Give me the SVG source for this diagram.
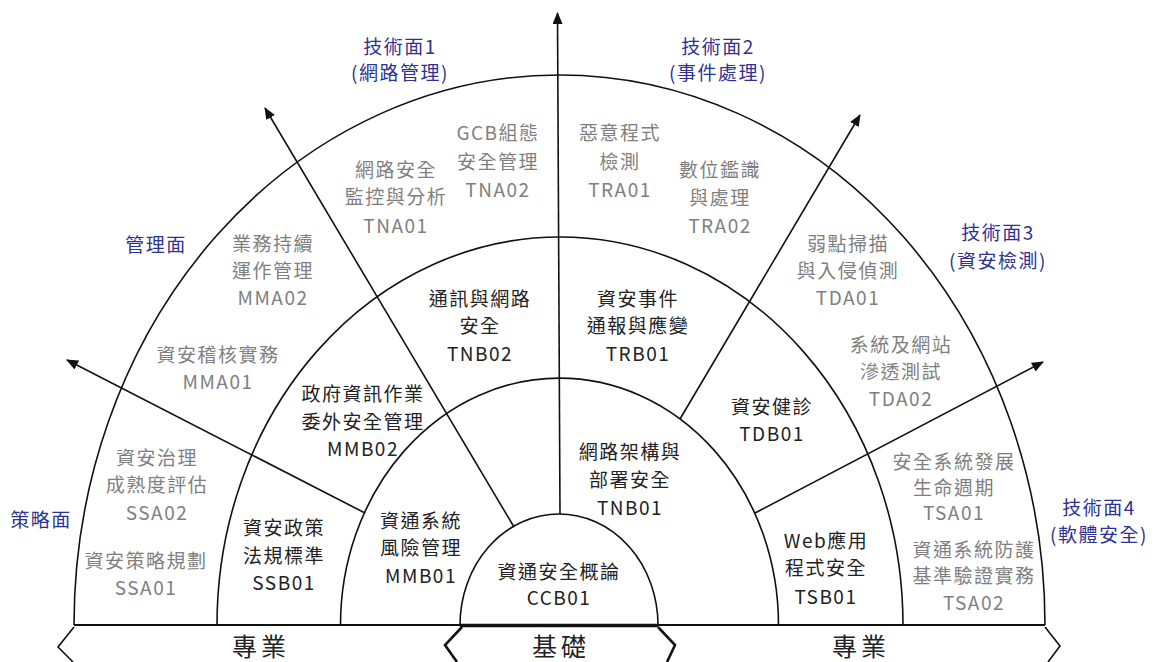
<svg xmlns="http://www.w3.org/2000/svg" width="1158" height="662" viewBox="0 0 1158 662">
<style>
text{font-family:"Noto Sans CJK TC","Noto Sans",sans-serif;font-size:19px;letter-spacing:1.5px;text-anchor:middle}
.g{fill:#7f7f7f}
.k{fill:#222222}
.n{fill:#2e3192}
.b{font-size:25px;letter-spacing:4px;fill:#222222}
.arc{fill:none;stroke:#111;stroke-width:1.6}
.ar{fill:none;stroke:#111;stroke-width:1.6}
</style>
<defs>
<marker id="ah" markerUnits="userSpaceOnUse" markerWidth="12" markerHeight="10" refX="11" refY="5" orient="auto">
<path d="M0,0 L12,5 L0,10 z" fill="#111"/>
</marker>
</defs>
<rect width="1158" height="662" fill="#ffffff"/>
<g id="rings">
<path class="arc" d="M74,625 A485.5,550 0 0 1 1045,625"/>
<path class="arc" d="M217,625 A343,388 0 0 1 903,625"/>
<path class="arc" d="M340.5,625 A219,247 0 0 1 778.5,625"/>
<path class="arc" d="M460,625 A99,111 0 0 1 658,625"/>
<line x1="74" y1="625" x2="1045" y2="625" stroke="#111" stroke-width="2.2"/>
<line x1="460" y1="625.5" x2="658" y2="625.5" stroke="#111" stroke-width="3.5"/>
<polyline points="74,627 58,647 73,662" fill="none" stroke="#111" stroke-width="1.6"/>
<polyline points="462,627 445,645 457,662" fill="none" stroke="#111" stroke-width="2.6"/>
<polyline points="658,627 675,645 667,662" fill="none" stroke="#111" stroke-width="2.6"/>
<polyline points="1045,627 1060,646 1048,662" fill="none" stroke="#111" stroke-width="1.6"/>
</g>
<g id="connectors">
<line class="ar" x1="560" y1="514" x2="557.5" y2="13" marker-end="url(#ah)"/>
<line class="ar" x1="514" y1="527" x2="265" y2="108" marker-end="url(#ah)"/>
<line class="ar" x1="365" y1="513" x2="67" y2="360" marker-end="url(#ah)"/>
<line class="ar" x1="680" y1="419" x2="860" y2="115" marker-end="url(#ah)"/>
<line class="ar" x1="755" y1="513" x2="1043" y2="362" marker-end="url(#ah)"/>
</g>
<g id="labels">
<text class="n" x="400" y="54">技術面1</text>
<text class="n" x="400" y="80">(網路管理)</text>
<text class="n" x="718" y="54">技術面2</text>
<text class="n" x="718" y="80">(事件處理)</text>
<text class="n" x="156" y="252">管理面</text>
<text class="n" x="998" y="240">技術面3</text>
<text class="n" x="998" y="268">(資安檢測)</text>
<text class="n" x="41" y="527">策略面</text>
<text class="n" x="1099" y="515">技術面4</text>
<text class="n" x="1099" y="542">(軟體安全)</text>
</g>
<g id="TNA02"><text class="g" x="498"><tspan x="498" y="140">GCB組態</tspan><tspan x="498" y="169">安全管理</tspan><tspan x="498" y="197">TNA02</tspan></text></g>
<g id="TRA01"><text class="g" x="620"><tspan x="620" y="140">惡意程式</tspan><tspan x="620" y="169">檢測</tspan><tspan x="620" y="197">TRA01</tspan></text></g>
<g id="TNA01"><text class="g" x="396"><tspan x="396" y="177">網路安全</tspan><tspan x="396" y="204">監控與分析</tspan><tspan x="396" y="233">TNA01</tspan></text></g>
<g id="TRA02"><text class="g" x="720"><tspan x="720" y="177">數位鑑識</tspan><tspan x="720" y="205">與處理</tspan><tspan x="720" y="233">TRA02</tspan></text></g>
<g id="MMA02"><text class="g" x="273"><tspan x="273" y="251">業務持續</tspan><tspan x="273" y="278">運作管理</tspan><tspan x="273" y="305">MMA02</tspan></text></g>
<g id="TDA01"><text class="g" x="848"><tspan x="848" y="251">弱點掃描</tspan><tspan x="848" y="278">與入侵偵測</tspan><tspan x="848" y="305">TDA01</tspan></text></g>
<g id="MMA01"><text class="g" x="218"><tspan x="218" y="362">資安稽核實務</tspan><tspan x="218" y="389">MMA01</tspan></text></g>
<g id="TDA02"><text class="g" x="901"><tspan x="901" y="352">系統及網站</tspan><tspan x="901" y="379">滲透測試</tspan><tspan x="901" y="406">TDA02</tspan></text></g>
<g id="SSA02"><text class="g" x="157"><tspan x="157" y="465">資安治理</tspan><tspan x="157" y="492">成熟度評估</tspan><tspan x="157" y="520">SSA02</tspan></text></g>
<g id="TSA01"><text class="g" x="954"><tspan x="954" y="469">安全系統發展</tspan><tspan x="954" y="495">生命週期</tspan><tspan x="954" y="520">TSA01</tspan></text></g>
<g id="SSA01"><text class="g" x="146"><tspan x="146" y="568">資安策略規劃</tspan><tspan x="146" y="595">SSA01</tspan></text></g>
<g id="TSA02"><text class="g" x="974"><tspan x="974" y="557">資通系統防護</tspan><tspan x="974" y="583">基準驗證實務</tspan><tspan x="974" y="610">TSA02</tspan></text></g>
<g id="TNB02"><text class="k" x="480"><tspan x="480" y="306">通訊與網路</tspan><tspan x="480" y="333">安全</tspan><tspan x="480" y="361">TNB02</tspan></text></g>
<g id="TRB01"><text class="k" x="638"><tspan x="638" y="306">資安事件</tspan><tspan x="638" y="333">通報與應變</tspan><tspan x="638" y="361">TRB01</tspan></text></g>
<g id="MMB02"><text class="k" x="363"><tspan x="363" y="401">政府資訊作業</tspan><tspan x="363" y="429">委外安全管理</tspan><tspan x="363" y="456">MMB02</tspan></text></g>
<g id="TDB01"><text class="k" x="772"><tspan x="772" y="414">資安健診</tspan><tspan x="772" y="441">TDB01</tspan></text></g>
<g id="SSB01"><text class="k" x="284"><tspan x="284" y="535">資安政策</tspan><tspan x="284" y="563">法規標準</tspan><tspan x="284" y="590">SSB01</tspan></text></g>
<g id="TSB01"><text class="k" x="826"><tspan x="826" y="548">Web應用</tspan><tspan x="826" y="575">程式安全</tspan><tspan x="826" y="604">TSB01</tspan></text></g>
<g id="MMB01"><text class="k" x="421"><tspan x="421" y="528">資通系統</tspan><tspan x="421" y="555">風險管理</tspan><tspan x="421" y="583">MMB01</tspan></text></g>
<g id="TNB01"><text class="k" x="630"><tspan x="630" y="459">網路架構與</tspan><tspan x="630" y="487">部署安全</tspan><tspan x="630" y="515">TNB01</tspan></text></g>
<g id="CCB01"><text class="k" x="559"><tspan x="559" y="579">資通安全概論</tspan><tspan x="559" y="605">CCB01</tspan></text></g>
<g id="bottom">
<text class="b" x="261" y="656">專業</text>
<text class="b" x="561" y="656">基礎</text>
<text class="b" x="861" y="656">專業</text>
</g>
</svg>
